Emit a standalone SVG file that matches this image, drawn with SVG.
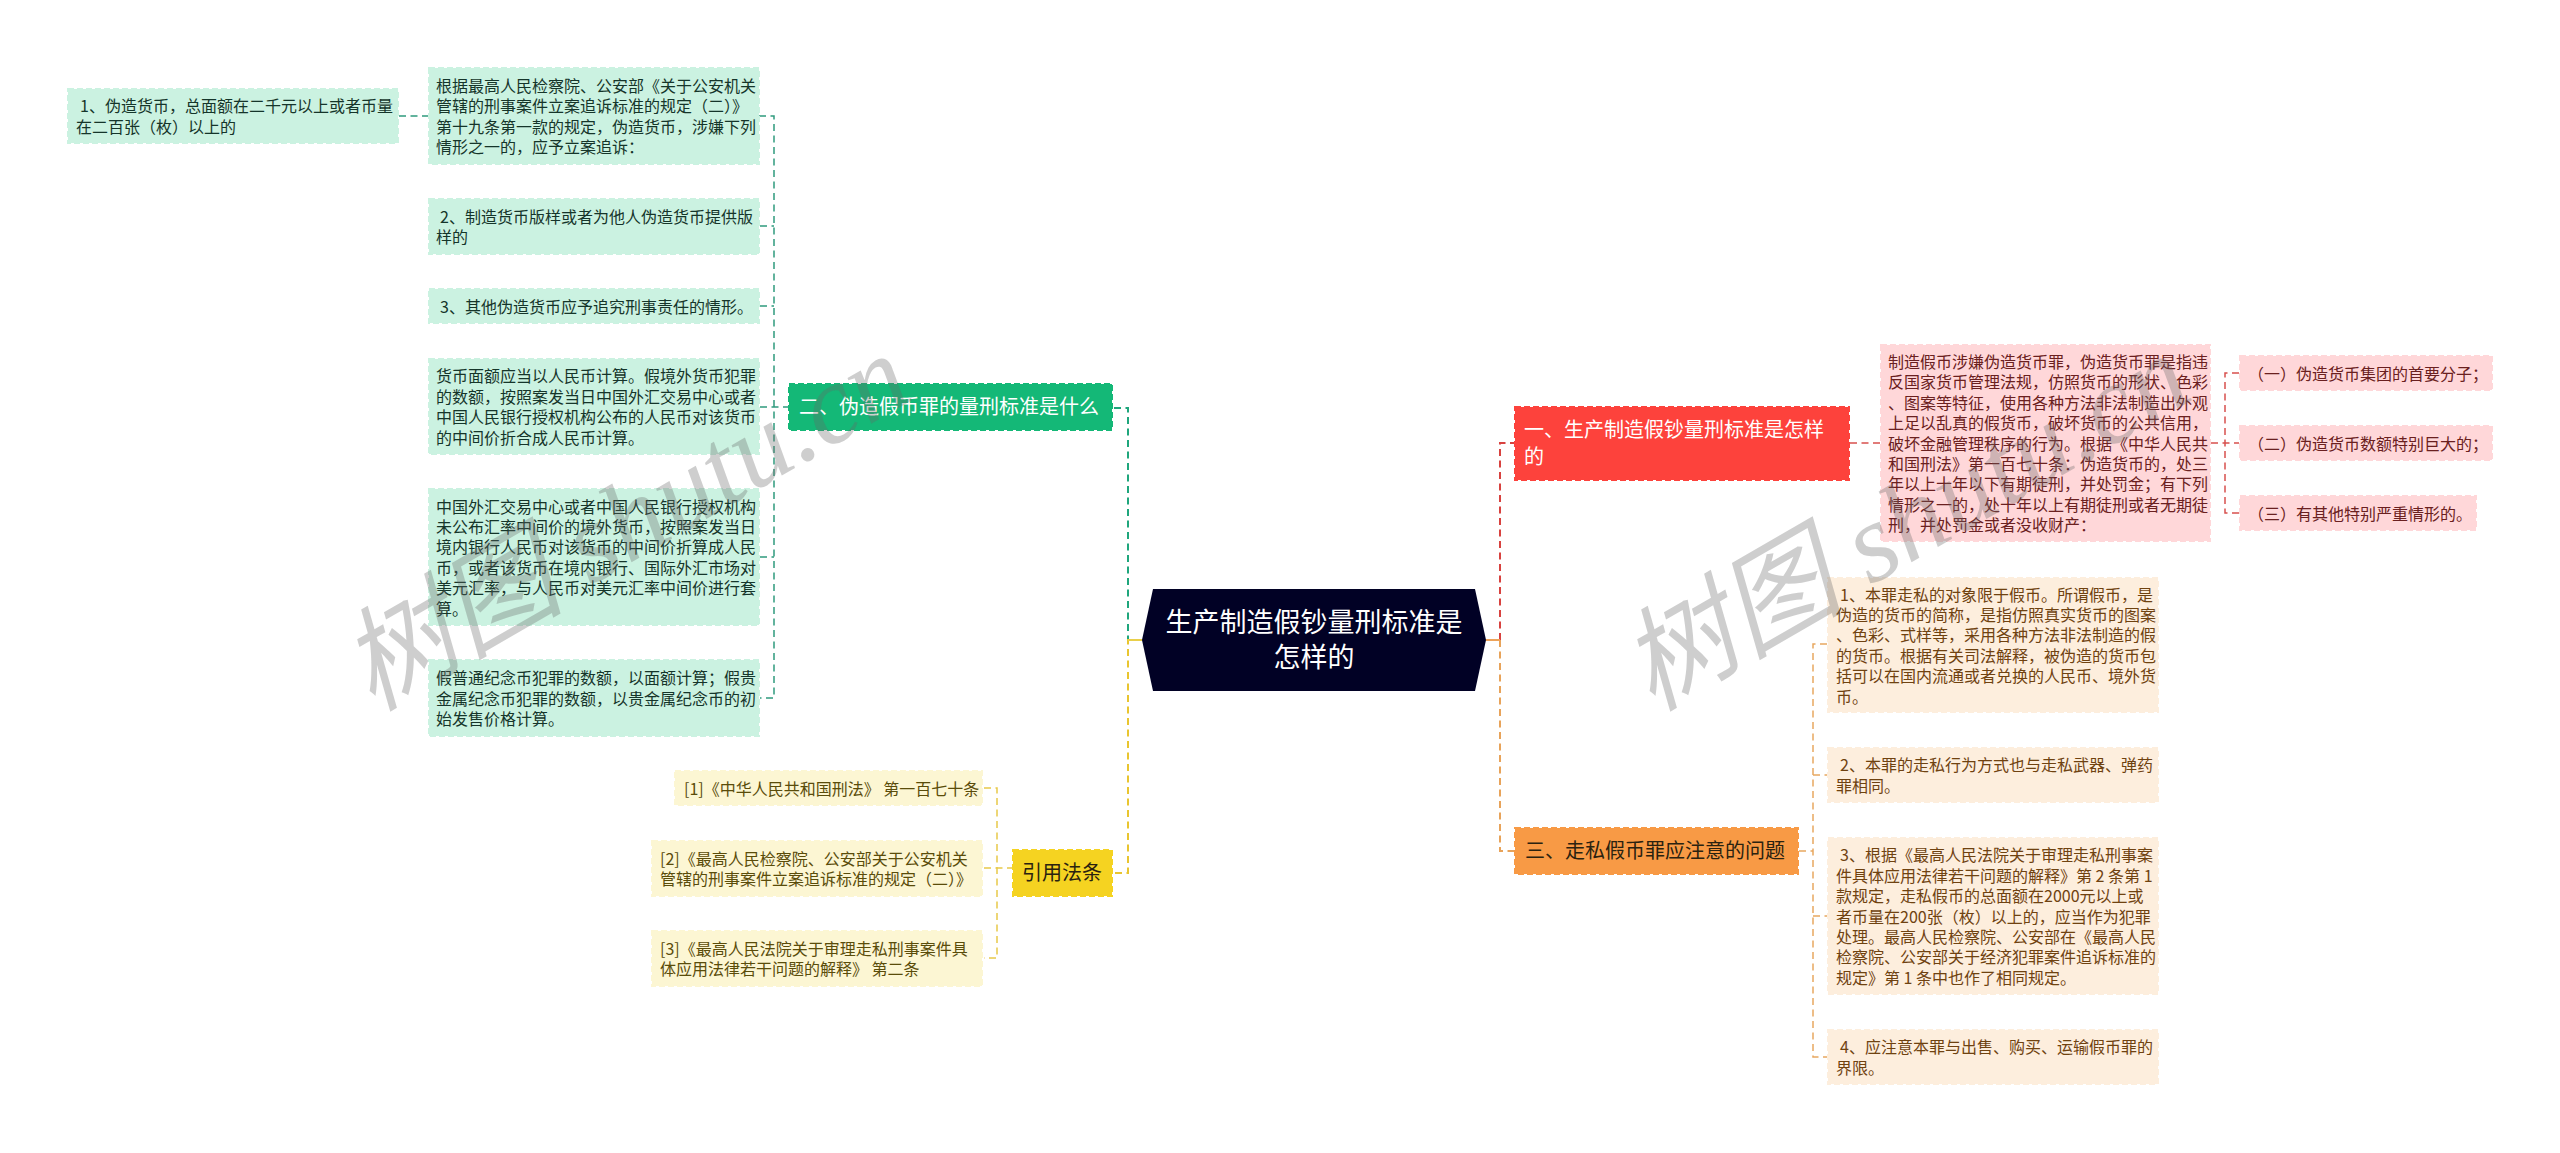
<svg xmlns="http://www.w3.org/2000/svg" width="2560" height="1153" viewBox="0 0 2560 1153">
<style>
text{font-family:"Noto Sans CJK SC","Noto Sans",sans-serif;font-size:16px}
.bg{fill:#fff}
rect,polygon{stroke-width:2;stroke-dasharray:6 3}
.g1{fill:#cbf2e1;stroke:#cbf2e1}.g1t{fill:#15352a}
.r1{fill:#ffd7d9;stroke:#ffd7d9}.r1t{fill:#6a2020}
.o1{fill:#fdeedd;stroke:#fdeedd}.o1t{fill:#6f4210}
.y1{fill:#fcf6d3;stroke:#fcf6d3}.y1t{fill:#5a4c0a}
text.b{font-size:20px}
.w{fill:#fff}.d{fill:#2a2210}
.c{fill:none;stroke-width:2;stroke-dasharray:7 4.5}
.cs{fill:none;stroke-width:2}
.ci{fill:none;stroke-width:1.5;stroke-dasharray:7 4.5}
.mk{font-family:"Liberation Serif","Noto Sans CJK SC",serif;font-style:italic;font-size:112px;fill:#666;fill-opacity:.32}
</style>
<rect class="bg" x="0" y="0" width="2560" height="1153" style="stroke:none"/>
<g id="connectors">
<path class="c" stroke="#1fa67c" d="M1142 640H1128V408H1113"/>
<path class="c" stroke="#e9c52f" d="M1142 640H1128V873H1113"/>
<path class="cs" stroke="#e9cf4a" d="M1128 640H1142"/>
<path class="c" stroke="#d8423f" d="M1500 640V443H1514"/>
<path class="c" stroke="#e8a35a" d="M1500 640V851H1514"/>
<path class="cs" stroke="#eda35a" d="M1486 640H1500"/>
<path class="ci" stroke="#2f9a7d" d="M759 116H774V698H760"/>
<path class="ci" stroke="#2f9a7d" d="M399 116H428"/>
<path class="ci" stroke="#2f9a7d" d="M760 226H774M760 306H774M760 407H788M760 557H774"/>
<path class="ci" stroke="#e8c94a" d="M984 788H997V958H984"/>
<path class="ci" stroke="#e8c94a" d="M984 868H1012"/>
<path class="ci" stroke="#d8504e" d="M1850 443H1880"/>
<path class="ci" stroke="#d8504e" d="M2239 373H2225V513H2239"/>
<path class="ci" stroke="#d8504e" d="M2211 443H2239"/>
<path class="ci" stroke="#e8a860" d="M1827 644H1813V1057H1827"/>
<path class="ci" stroke="#e8a860" d="M1799 851H1813M1813 775H1827M1813 916H1827"/>
</g>
<g id="main"><polygon points="1153,589 1475,589 1486,640 1475,691 1153,691 1142,640" fill="#010125" style="stroke:none"/>
<text text-anchor="middle" fill="#fff" style="font-size:27px"><tspan x="1314" y="632">生产制造假钞量刑标准是</tspan><tspan x="1314" dy="35">怎样的</tspan></text></g>
<g id="n-red"><rect x="1515" y="407" width="334" height="73" fill="#fd423c" stroke="#fd423c"/>
<text class="b w"><tspan x="1524" y="437">一、生产制造假钞量刑标准是怎样</tspan><tspan x="1524" dy="27">的</tspan></text></g>
<g id="n-orange"><rect x="1515" y="828" width="283" height="46" fill="#f89a45" stroke="#f89a45"/>
<text class="b d" x="1525" y="858">三、走私假币罪应注意的问题</text></g>
<g id="n-green"><rect x="789" y="384" width="323" height="46" fill="#14b877" stroke="#14b877"/>
<text class="b w" x="799" y="414">二、伪造假币罪的量刑标准是什么</text></g>
<g id="n-yellow"><rect x="1013" y="850" width="99" height="46" fill="#f5d321" stroke="#f5d321"/>
<text class="b d" x="1022" y="880">引用法条</text></g>
<g id="g1"><rect class="g1" x="68" y="89" width="330" height="54"/>
<text class="g1t"><tspan x="80" y="112.3">1、伪造货币，总面额在二千元以上或者币量</tspan><tspan x="76" dy="20.4">在二百张（枚）以上的</tspan></text></g>
<g id="g2"><rect class="g1" x="429" y="68" width="330" height="96"/>
<text class="g1t"><tspan x="436" y="91.9">根据最高人民检察院、公安部《关于公安机关</tspan><tspan x="436" dy="20.4">管辖的刑事案件立案追诉标准的规定（二）》</tspan><tspan x="436" dy="20.4">第十九条第一款的规定，伪造货币，涉嫌下列</tspan><tspan x="436" dy="20.4">情形之一的，应予立案追诉：</tspan></text></g>
<g id="g3"><rect class="g1" x="429" y="199" width="330" height="55"/>
<text class="g1t"><tspan x="440" y="222.8">2、制造货币版样或者为他人伪造货币提供版</tspan><tspan x="436" dy="20.4">样的</tspan></text></g>
<g id="g4"><rect class="g1" x="429" y="289" width="330" height="34"/>
<text class="g1t" x="440" y="312.5">3、其他伪造货币应予追究刑事责任的情形。</text></g>
<g id="g5"><rect class="g1" x="429" y="359" width="330" height="95"/>
<text class="g1t"><tspan x="436" y="382.4">货币面额应当以人民币计算。假境外货币犯罪</tspan><tspan x="436" dy="20.4">的数额，按照案发当日中国外汇交易中心或者</tspan><tspan x="436" dy="20.4">中国人民银行授权机构公布的人民币对该货币</tspan><tspan x="436" dy="20.4">的中间价折合成人民币计算。</tspan></text></g>
<g id="g6"><rect class="g1" x="429" y="489" width="330" height="136"/>
<text class="g1t"><tspan x="436" y="512.5">中国外汇交易中心或者中国人民银行授权机构</tspan><tspan x="436" dy="20.4">未公布汇率中间价的境外货币，按照案发当日</tspan><tspan x="436" dy="20.4">境内银行人民币对该货币的中间价折算成人民</tspan><tspan x="436" dy="20.4">币，或者该货币在境内银行、国际外汇市场对</tspan><tspan x="436" dy="20.4">美元汇率，与人民币对美元汇率中间价进行套</tspan><tspan x="436" dy="20.4">算。</tspan></text></g>
<g id="g7"><rect class="g1" x="429" y="660" width="330" height="76"/>
<text class="g1t"><tspan x="436" y="684.1">假普通纪念币犯罪的数额，以面额计算；假贵</tspan><tspan x="436" dy="20.4">金属纪念币犯罪的数额，以贵金属纪念币的初</tspan><tspan x="436" dy="20.4">始发售价格计算。</tspan></text></g>
<g id="y1"><rect class="y1" x="675" y="771" width="307" height="34"/>
<text class="y1t" x="684" y="794.5">[1]《中华人民共和国刑法》 第一百七十条</text></g>
<g id="y2"><rect class="y1" x="652" y="841" width="330" height="55"/>
<text class="y1t"><tspan x="660" y="864.8">[2]《最高人民检察院、公安部关于公安机关</tspan><tspan x="660" dy="20.4">管辖的刑事案件立案追诉标准的规定（二）》</tspan></text></g>
<g id="y3"><rect class="y1" x="652" y="931" width="330" height="55"/>
<text class="y1t"><tspan x="660" y="954.8">[3]《最高人民法院关于审理走私刑事案件具</tspan><tspan x="660" dy="20.4">体应用法律若干问题的解释》 第二条</tspan></text></g>
<g id="r1"><rect class="r1" x="1881" y="345" width="329" height="196"/>
<text class="r1t"><tspan x="1888" y="367.9">制造假币涉嫌伪造货币罪，伪造货币罪是指违</tspan><tspan x="1888" dy="20.4">反国家货币管理法规，仿照货币的形状、色彩</tspan><tspan x="1888" dy="20.4">、图案等特征，使用各种方法非法制造出外观</tspan><tspan x="1888" dy="20.4">上足以乱真的假货币，破坏货币的公共信用，</tspan><tspan x="1888" dy="20.4">破坏金融管理秩序的行为。根据《中华人民共</tspan><tspan x="1888" dy="20.4">和国刑法》第一百七十条：伪造货币的，处三</tspan><tspan x="1888" dy="20.4">年以上十年以下有期徒刑，并处罚金；有下列</tspan><tspan x="1888" dy="20.4">情形之一的，处十年以上有期徒刑或者无期徒</tspan><tspan x="1888" dy="20.4">刑，并处罚金或者没收财产：</tspan></text></g>
<g id="r2"><rect class="r1" x="2240" y="356" width="252" height="34"/>
<text class="r1t" x="2248" y="379.5">（一）伪造货币集团的首要分子；</text></g>
<g id="r3"><rect class="r1" x="2240" y="426" width="252" height="34"/>
<text class="r1t" x="2248" y="449.5">（二）伪造货币数额特别巨大的；</text></g>
<g id="r4"><rect class="r1" x="2240" y="496" width="236" height="34"/>
<text class="r1t" x="2248" y="519.5">（三）有其他特别严重情形的。</text></g>
<g id="o1"><rect class="o1" x="1828" y="578" width="330" height="134"/>
<text class="o1t"><tspan x="1840" y="600.5">1、本罪走私的对象限于假币。所谓假币，是</tspan><tspan x="1836" dy="20.4">伪造的货币的简称，是指仿照真实货币的图案</tspan><tspan x="1836" dy="20.4">、色彩、式样等，采用各种方法非法制造的假</tspan><tspan x="1836" dy="20.4">的货币。根据有关司法解释，被伪造的货币包</tspan><tspan x="1836" dy="20.4">括可以在国内流通或者兑换的人民币、境外货</tspan><tspan x="1836" dy="20.4">币。</tspan></text></g>
<g id="o2"><rect class="o1" x="1828" y="748" width="330" height="54"/>
<text class="o1t"><tspan x="1840" y="771.3">2、本罪的走私行为方式也与走私武器、弹药</tspan><tspan x="1836" dy="20.4">罪相同。</tspan></text></g>
<g id="o3"><rect class="o1" x="1828" y="838" width="330" height="156"/>
<text class="o1t"><tspan x="1840" y="861.3">3、根据《最高人民法院关于审理走私刑事案</tspan><tspan x="1836" dy="20.4">件具体应用法律若干问题的解释》第 2 条第 1</tspan><tspan x="1836" dy="20.4">款规定，走私假币的总面额在2000元以上或</tspan><tspan x="1836" dy="20.4">者币量在200张（枚）以上的，应当作为犯罪</tspan><tspan x="1836" dy="20.4">处理。最高人民检察院、公安部在《最高人民</tspan><tspan x="1836" dy="20.4">检察院、公安部关于经济犯罪案件追诉标准的</tspan><tspan x="1836" dy="20.4">规定》第 1 条中也作了相同规定。</tspan></text></g>
<g id="o4"><rect class="o1" x="1828" y="1030" width="330" height="54"/>
<text class="o1t"><tspan x="1840" y="1053.3">4、应注意本罪与出售、购买、运输假币罪的</tspan><tspan x="1836" dy="20.4">界限。</tspan></text></g>
<g id="watermarks">
<text class="mk" transform="translate(372 712) rotate(-30)">树图 shutu.cn</text>
<text class="mk" transform="translate(1652 712) rotate(-30)">树图 shutu.cn</text>
</g>
</svg>
